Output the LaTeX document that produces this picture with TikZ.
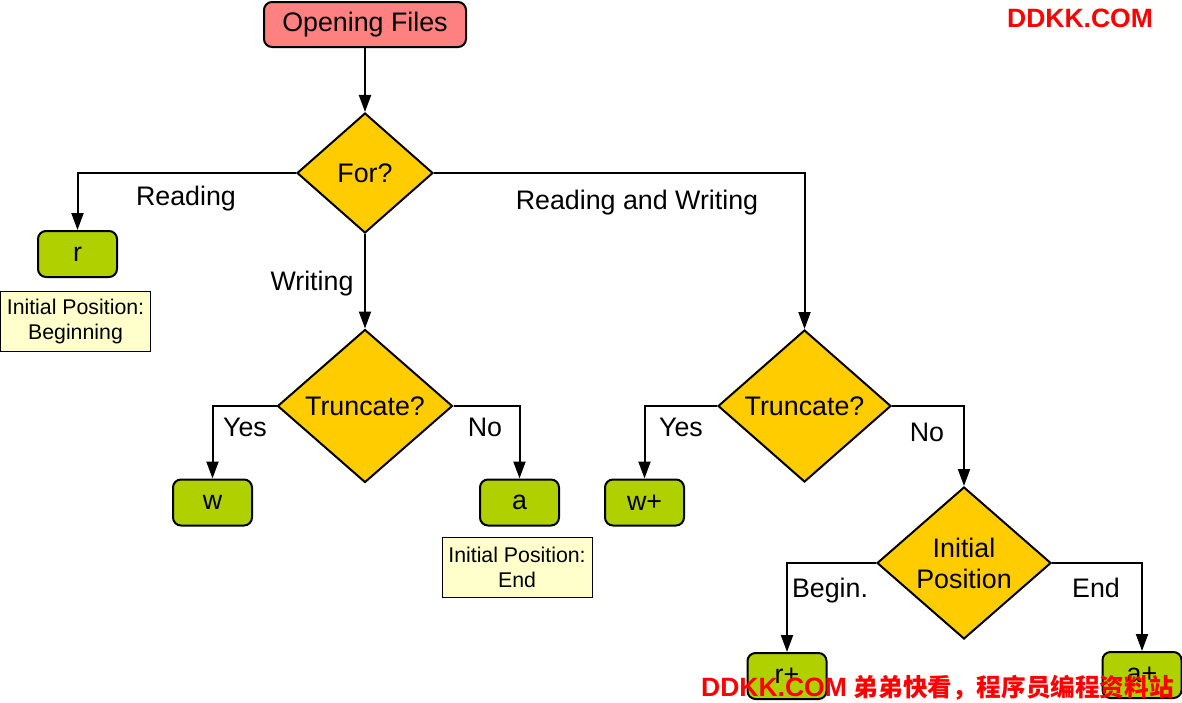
\documentclass[tikz,border=0pt]{standalone}
\usepackage{fontspec}
\setmainfont{Liberation Sans}
\newfontfamily\cjk{Noto Sans CJK SC}
\usetikzlibrary{shapes.geometric,arrows.meta}
\definecolor{startpink}{RGB}{255,128,128}
\definecolor{askgold}{RGB}{255,204,0}
\definecolor{modegreen}{RGB}{176,208,0}
\definecolor{notecream}{RGB}{255,255,204}
\begin{document}
\begin{tikzpicture}[x=1pt,y=-1pt,
  every node/.style={font=\fontsize{26.8}{31}\selectfont},
  startbox/.style={draw,line width=2pt,rounded corners=8pt,fill=startpink,
    minimum width=202pt,minimum height=45pt},
  askbox/.style={draw,line width=2pt,diamond,fill=askgold,inner sep=0pt,align=center},
  modebox/.style={draw,line width=2pt,rounded corners=8pt,fill=modegreen,
    minimum width=79pt,minimum height=46pt},
  notebox/.style={draw,line width=0.8pt,fill=notecream,align=center,
    minimum width=150pt,minimum height=60pt,font=\fontsize{21.3}{25}\selectfont},
  lab/.style={anchor=base},
  arr/.style={line width=2pt,-{Triangle[length=17pt,width=12pt]}},
  wmark/.style={text=red,inner sep=0pt,font=\bfseries\fontsize{26.5}{30}\selectfont}]
\useasboundingbox (0,0) rectangle (1182,702);
% nodes
\node[startbox] (open) at (365,24.5) {Opening Files};
\node[askbox,minimum width=136pt,minimum height=120pt] (for) at (365,173) {For?};
\node[modebox] (r) at (77.5,254) {r};
\node[notebox] (nr) at (75.5,321) {Initial Position:\\Beginning};
\node[askbox,minimum width=175pt,minimum height=153pt] (trw) at (365,406) {Truncate?};
\node[modebox] (w) at (212.5,502.5) {w};
\node[modebox] (a) at (519.5,502.5) {a};
\node[notebox] (na) at (517,567) {Initial Position:\\End};
\node[askbox,minimum width=173pt,minimum height=152pt] (trrw) at (804.5,406) {Truncate?};
\node[modebox] (wp) at (644.5,502.5) {w+};
\node[askbox,minimum width=174pt,minimum height=152pt] (pos) at (964,563) {Initial\\Position};
\node[modebox] (rp) at (787,676) {r+};
\node[modebox] (ap) at (1142,675) {a+};
% connectors
\draw[arr] (open) -- (for);
\draw[arr] (for.west) -| (r.north);
\draw[arr] (for.south) -- (trw.north);
\draw[arr] (for.east) -| (trrw.north);
\draw[arr] (trw.west) -| (w.north);
\draw[arr] (trw.east) -| (a.north);
\draw[arr] (trrw.west) -| (wp.north);
\draw[arr] (trrw.east) -| (pos.north);
\draw[arr] (pos.west) -| (rp.north);
\draw[arr] (pos.east) -| (ap.north);
% labels
\node[lab] (lread) at (186,205) {Reading};
\node[lab] (lwrite) at (312,290) {Writing};
\node[lab] (lboth) at (637,209) {Reading and Writing};
\node[lab] (lyes1) at (245,436) {Yes};
\node[lab] (lno1) at (485,436) {No};
\node[lab] (lyes2) at (681,436) {Yes};
\node[lab] (lno2) at (927,441) {No};
\node[lab] (lbegin) at (830,597) {Begin.};
\node[lab] (lend) at (1096,597) {End};
% watermark
\node[wmark] (wmtop) at (1080,18) {DDKK.COM};
\node[wmark,anchor=west] (wmbot) at (701,688) {DDKK.COM\hspace{7pt}{\cjk\fontsize{24.6}{30}\selectfont 弟弟快看，程序员编程资料站}};
\end{tikzpicture}
\end{document}
